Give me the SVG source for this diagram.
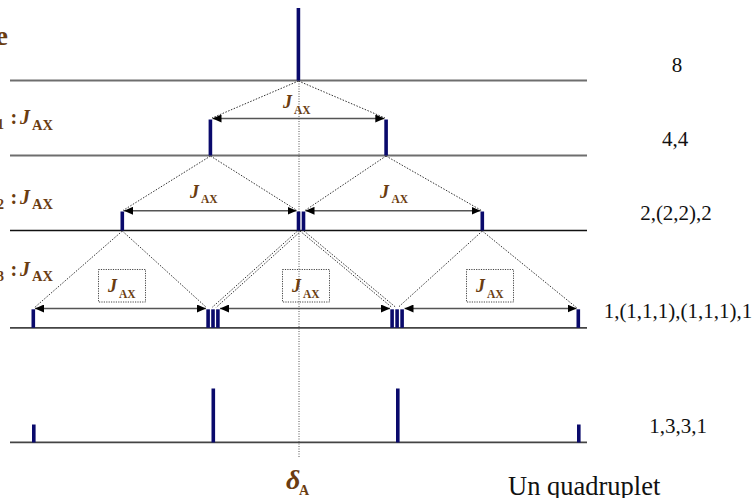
<svg xmlns="http://www.w3.org/2000/svg" width="754" height="498" viewBox="0 0 754 498">
<style>
.base{stroke:#6e6e6e;stroke-width:1.8;fill:none}
.baseb{stroke:#111;stroke-width:1.6;fill:none}
.dot{stroke:#333;stroke-width:1;stroke-dasharray:1.5 1.5;fill:none}
.vdot{stroke:#555;stroke-width:1;stroke-dasharray:1 1.5;fill:none}
.arr{stroke:#555;stroke-width:1.5;fill:none;marker-start:url(#ah);marker-end:url(#ah)}
.bar{fill:#0a0a6c}
.box{fill:none;stroke:#444;stroke-width:1;stroke-dasharray:1.2 1.2}
.lbl{font-family:"Liberation Serif","Times New Roman",serif;font-weight:bold;fill:#6a3c10}
.j{font-style:italic}
.num{font-family:"Liberation Serif","Times New Roman",serif;font-size:21px;fill:#111;text-anchor:middle}
</style>
<defs>
<marker id="ah" markerUnits="userSpaceOnUse" markerWidth="9" markerHeight="8" refX="9" refY="4" orient="auto-start-reverse">
<path d="M0,0 L9,4 L0,8 z" fill="#000"/>
</marker>
</defs>
<rect width="754" height="498" fill="#fff"/>

<g id="baselines">
<line class="base" x1="10" y1="80.5" x2="587" y2="80.5"/>
<line class="base" x1="10" y1="155.5" x2="587" y2="155.5"/>
<line class="baseb" x1="10" y1="230.5" x2="587" y2="230.5"/>
<line class="base" x1="10" y1="327.8" x2="587" y2="327.8" style="stroke:#444"/>
<line class="base" x1="10" y1="442.3" x2="587" y2="442.3" style="stroke:#444"/>
</g>

<g id="connectors">
<line class="vdot" x1="299" y1="81" x2="299" y2="458"/>
<!-- level 0 to 1 -->
<line class="dot" x1="298.5" y1="81" x2="212" y2="118"/>
<line class="dot" x1="298.5" y1="81" x2="385" y2="118"/>
<!-- level 1 to 2 -->
<line class="dot" x1="210.5" y1="156" x2="123" y2="210.5"/>
<line class="dot" x1="210.5" y1="156" x2="297" y2="210.5"/>
<line class="dot" x1="386" y1="156" x2="305" y2="210.5"/>
<line class="dot" x1="386" y1="156" x2="481.5" y2="210.5"/>
<!-- level 2 to 3 -->
<line class="dot" x1="122.3" y1="231" x2="34" y2="308"/>
<line class="dot" x1="122.3" y1="231" x2="206.5" y2="307.5"/>
<line class="dot" x1="297.5" y1="231" x2="212" y2="307.5"/>
<line class="dot" x1="301" y1="231" x2="216" y2="307.5"/>
<line class="dot" x1="300" y1="231" x2="392" y2="307.5"/>
<line class="dot" x1="304" y1="231" x2="396" y2="307.5"/>
<line class="dot" x1="482.3" y1="231" x2="398" y2="307.5"/>
<line class="dot" x1="482.3" y1="231" x2="577" y2="308"/>
<!-- coupling arrows -->
<line class="arr" x1="212.5" y1="118.5" x2="384.3" y2="118.5"/>
<line class="arr" x1="124" y1="210.8" x2="296.5" y2="210.8"/>
<line class="arr" x1="305.5" y1="210.8" x2="480.5" y2="210.8"/>
<line class="arr" x1="35" y1="308.5" x2="206" y2="308.5"/>
<line class="arr" x1="220" y1="308.5" x2="390" y2="308.5"/>
<line class="arr" x1="404.5" y1="308.5" x2="576.5" y2="308.5"/>
</g>

<g id="level0">
<rect class="bar" x="296.6" y="8" width="3.6" height="72.5"/>
<text class="num" x="677" y="72">8</text>
</g>

<g id="level1">
<rect class="bar" x="208.6" y="119.5" width="3.6" height="36"/>
<rect class="bar" x="384.3" y="119.5" width="3.6" height="36"/>
<text class="lbl" x="283" y="108" font-size="18"><tspan class="j">J</tspan></text>
<text class="lbl" x="294" y="113.5" font-size="11.5">AX</text>
<text class="num" x="675" y="146">4,4</text>
</g>

<g id="level2">
<rect class="bar" x="120.5" y="211.5" width="3.6" height="19"/>
<rect class="bar" x="296.7" y="211.5" width="3.6" height="19"/>
<rect class="bar" x="301.7" y="211.5" width="3.6" height="19"/>
<rect class="bar" x="480.5" y="211.5" width="3.6" height="19"/>
<text class="lbl" x="190" y="197.5" font-size="18"><tspan class="j">J</tspan></text>
<text class="lbl" x="201" y="203" font-size="11.5">AX</text>
<text class="lbl" x="380" y="197.5" font-size="18"><tspan class="j">J</tspan></text>
<text class="lbl" x="391.5" y="203" font-size="11.5">AX</text>
<text class="num" x="676" y="220">2,(2,2),2</text>
</g>

<g id="level3">
<rect class="bar" x="31.5" y="309.3" width="3.6" height="18.5"/>
<rect class="bar" x="206.3" y="309.3" width="3.6" height="18.5"/>
<rect class="bar" x="211.2" y="309.3" width="3.6" height="18.5"/>
<rect class="bar" x="216.1" y="309.3" width="3.6" height="18.5"/>
<rect class="bar" x="390.3" y="309.3" width="3.6" height="18.5"/>
<rect class="bar" x="395.3" y="309.3" width="3.6" height="18.5"/>
<rect class="bar" x="400.3" y="309.3" width="3.6" height="18.5"/>
<rect class="bar" x="576.5" y="309.3" width="3.6" height="18.5"/>
<rect class="box" x="98.5" y="269.5" width="47" height="32.5"/>
<rect class="box" x="282.5" y="269.5" width="47" height="32.5"/>
<rect class="box" x="466.5" y="269.5" width="47" height="32.5"/>
<text class="lbl" x="108" y="292" font-size="18"><tspan class="j">J</tspan></text>
<text class="lbl" x="119" y="297.5" font-size="11.5">AX</text>
<text class="lbl" x="292" y="292" font-size="18"><tspan class="j">J</tspan></text>
<text class="lbl" x="303" y="297.5" font-size="11.5">AX</text>
<text class="lbl" x="476" y="292" font-size="18"><tspan class="j">J</tspan></text>
<text class="lbl" x="487" y="297.5" font-size="11.5">AX</text>
<text class="num" x="678" y="318">1,(1,1,1),(1,1,1),1</text>
</g>

<g id="spectrum">
<rect class="bar" x="32" y="424.5" width="3.6" height="18"/>
<rect class="bar" x="211.5" y="388.5" width="3.6" height="54"/>
<rect class="bar" x="396" y="388.5" width="3.6" height="54"/>
<rect class="bar" x="577" y="424.5" width="3.6" height="18"/>
<text class="num" x="678" y="433">1,3,3,1</text>
</g>

<g id="left-labels">
<text class="lbl" x="8" y="45" font-size="28" text-anchor="end">e</text>
<text class="lbl" x="4" y="129" font-size="14" text-anchor="end">1</text>
<text class="lbl" x="10.5" y="124" font-size="20">:</text>
<text class="lbl j" x="20" y="124" font-size="20">J</text>
<text class="lbl" x="32" y="129.5" font-size="14.5">AX</text>
<text class="lbl" x="4" y="208.5" font-size="14" text-anchor="end">2</text>
<text class="lbl" x="10.5" y="203.5" font-size="20">:</text>
<text class="lbl j" x="20" y="203.5" font-size="20">J</text>
<text class="lbl" x="32" y="209" font-size="14.5">AX</text>
<text class="lbl" x="4" y="281" font-size="14" text-anchor="end">3</text>
<text class="lbl" x="10.5" y="275.5" font-size="20">:</text>
<text class="lbl j" x="20" y="275.5" font-size="20">J</text>
<text class="lbl" x="32" y="281" font-size="14.5">AX</text>
</g>

<g id="footer">
<text class="lbl j" x="286" y="489" font-size="28">δ</text>
<text class="lbl" x="299" y="495" font-size="14">A</text>
<text x="508" y="495" font-family="Liberation Serif, Times New Roman, serif" font-size="26.5" fill="#111">Un quadruplet</text>
</g>
</svg>
